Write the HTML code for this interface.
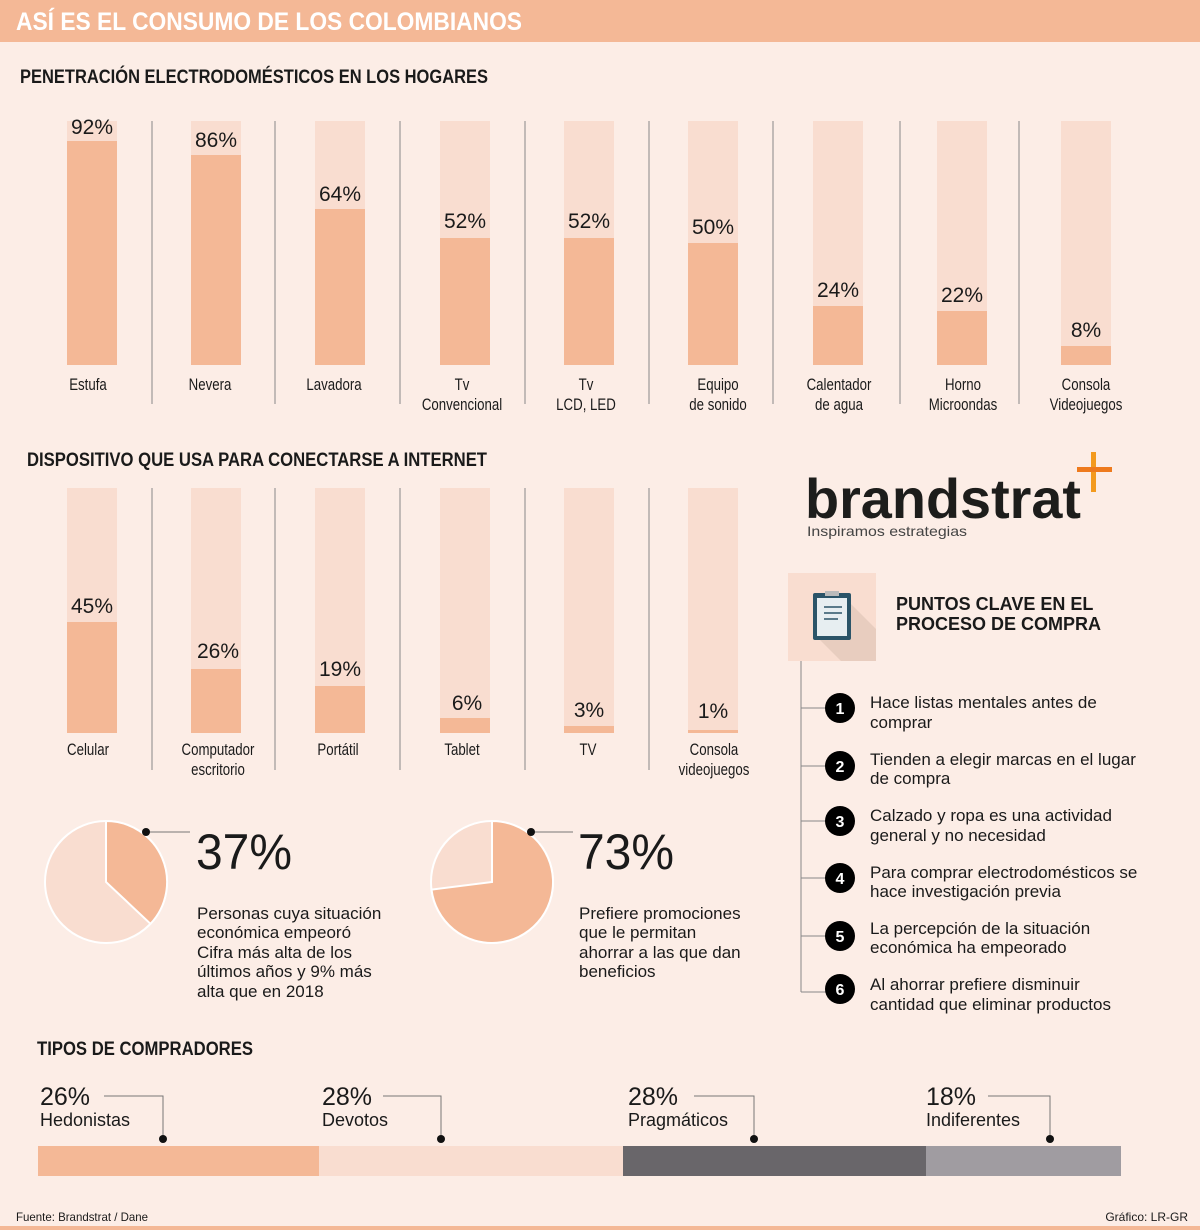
<!DOCTYPE html>
<html><head><meta charset="utf-8"><style>
body{margin:0;background:#fcede6}
svg{display:block}
text{font-family:"Liberation Sans",sans-serif;fill:#1a1a1a}
.c{font-size:17px;text-anchor:middle}
.v{font-size:21px;text-anchor:middle}
.h{font-size:19px;font-weight:bold}
.t{font-size:17px}
</style></head><body>
<svg width="1200" height="1230" viewBox="0 0 1200 1230">
<rect width="1200" height="1230" fill="#fcede6"/>
<rect width="1200" height="42" fill="#f4b896"/>
<text x="16" y="30" style="font-size:25px;font-weight:bold;fill:#fff" textLength="506" lengthAdjust="spacingAndGlyphs">ASÍ ES EL CONSUMO DE LOS COLOMBIANOS</text>
<text x="20" y="83" class="h" textLength="468" lengthAdjust="spacingAndGlyphs">PENETRACIÓN ELECTRODOMÉSTICOS EN LOS HOGARES</text>
<g stroke="#888" stroke-width="1">
<line x1="152" y1="121" x2="152" y2="404"/><line x1="275" y1="121" x2="275" y2="404"/><line x1="400" y1="121" x2="400" y2="404"/><line x1="525" y1="121" x2="525" y2="404"/><line x1="649" y1="121" x2="649" y2="404"/><line x1="773" y1="121" x2="773" y2="404"/><line x1="900" y1="121" x2="900" y2="404"/><line x1="1019" y1="121" x2="1019" y2="404"/>
<line x1="152" y1="488" x2="152" y2="770"/><line x1="275" y1="488" x2="275" y2="770"/><line x1="400" y1="488" x2="400" y2="770"/><line x1="525" y1="488" x2="525" y2="770"/><line x1="649" y1="488" x2="649" y2="770"/>
</g>
<g fill="#f9ddd0">
<rect x="67" y="121" width="50" height="244"/><rect x="191" y="121" width="50" height="244"/><rect x="315" y="121" width="50" height="244"/><rect x="440" y="121" width="50" height="244"/><rect x="564" y="121" width="50" height="244"/><rect x="688" y="121" width="50" height="244"/><rect x="813" y="121" width="50" height="244"/><rect x="937" y="121" width="50" height="244"/><rect x="1061" y="121" width="50" height="244"/>
<rect x="67" y="488" width="50" height="245"/><rect x="191" y="488" width="50" height="245"/><rect x="315" y="488" width="50" height="245"/><rect x="440" y="488" width="50" height="245"/><rect x="564" y="488" width="50" height="245"/><rect x="688" y="488" width="50" height="245"/>
</g>
<g fill="#f4b896">
<rect x="67" y="141" width="50" height="224"/><rect x="191" y="155" width="50" height="210"/><rect x="315" y="209" width="50" height="156"/><rect x="440" y="238" width="50" height="127"/><rect x="564" y="238" width="50" height="127"/><rect x="688" y="243" width="50" height="122"/><rect x="813" y="306" width="50" height="59"/><rect x="937" y="311" width="50" height="54"/><rect x="1061" y="346" width="50" height="19"/>
<rect x="67" y="622" width="50" height="111"/><rect x="191" y="669" width="50" height="64"/><rect x="315" y="686" width="50" height="47"/><rect x="440" y="718" width="50" height="15"/><rect x="564" y="726" width="50" height="7"/><rect x="688" y="730" width="50" height="3"/>
</g>
<g class="v">
<text x="92" y="134">92%</text><text x="216" y="147">86%</text><text x="340" y="201">64%</text><text x="465" y="228">52%</text><text x="589" y="228">52%</text><text x="713" y="234">50%</text><text x="838" y="297">24%</text><text x="962" y="302">22%</text><text x="1086" y="337">8%</text>
<text x="92" y="613">45%</text><text x="218" y="658">26%</text><text x="340" y="676">19%</text><text x="467" y="710">6%</text><text x="589" y="717">3%</text><text x="713" y="718">1%</text>
</g>
<g class="c">
<g transform="translate(88 0) scale(0.78 1)"><text x="0" y="390">Estufa</text></g>
<g transform="translate(210 0) scale(0.78 1)"><text x="0" y="390">Nevera</text></g>
<g transform="translate(334 0) scale(0.78 1)"><text x="0" y="390">Lavadora</text></g>
<g transform="translate(462 0) scale(0.78 1)"><text x="0" y="390">Tv</text><text x="0" y="410">Convencional</text></g>
<g transform="translate(586 0) scale(0.78 1)"><text x="0" y="390">Tv</text><text x="0" y="410">LCD, LED</text></g>
<g transform="translate(718 0) scale(0.78 1)"><text x="0" y="390">Equipo</text><text x="0" y="410">de sonido</text></g>
<g transform="translate(839 0) scale(0.78 1)"><text x="0" y="390">Calentador</text><text x="0" y="410">de agua</text></g>
<g transform="translate(963 0) scale(0.78 1)"><text x="0" y="390">Horno</text><text x="0" y="410">Microondas</text></g>
<g transform="translate(1086 0) scale(0.78 1)"><text x="0" y="390">Consola</text><text x="0" y="410">Videojuegos</text></g>
<g transform="translate(88 0) scale(0.78 1)"><text x="0" y="755">Celular</text></g>
<g transform="translate(218 0) scale(0.78 1)"><text x="0" y="755">Computador</text><text x="0" y="775">escritorio</text></g>
<g transform="translate(338 0) scale(0.78 1)"><text x="0" y="755">Portátil</text></g>
<g transform="translate(462 0) scale(0.78 1)"><text x="0" y="755">Tablet</text></g>
<g transform="translate(588 0) scale(0.78 1)"><text x="0" y="755">TV</text></g>
<g transform="translate(714 0) scale(0.78 1)"><text x="0" y="755">Consola</text><text x="0" y="775">videojuegos</text></g>
</g>
<text x="27" y="466" class="h" textLength="460" lengthAdjust="spacingAndGlyphs">DISPOSITIVO QUE USA PARA CONECTARSE A INTERNET</text>
<!-- logo -->
<text x="805" y="518" style="font-size:56px;font-weight:bold;fill:#1d1d1b" textLength="276" lengthAdjust="spacingAndGlyphs">brandstrat</text>
<text x="807" y="536" style="font-size:14px;fill:#444" textLength="160" lengthAdjust="spacingAndGlyphs">Inspiramos estrategias</text>
<rect x="1091" y="452" width="5" height="40" fill="#f39a1e"/><rect x="1077" y="467" width="35" height="5" fill="#ee7a1d"/>
<!-- pies -->
<circle cx="106" cy="882" r="61" fill="#f9ddd0" stroke="#fff" stroke-width="2"/>
<path d="M106 882 L106 821 A61 61 0 0 1 150.5 923.8 Z" fill="#f4b896" stroke="#fff" stroke-width="2"/>
<circle cx="492" cy="882" r="61" fill="#f9ddd0" stroke="#fff" stroke-width="2"/>
<path d="M492 882 L492 821 A61 61 0 1 1 431.5 889.6 Z" fill="#f4b896" stroke="#fff" stroke-width="2"/>
<line x1="146" y1="832" x2="190" y2="832" stroke="#777"/><circle cx="146" cy="832" r="4" fill="#111"/>
<line x1="531" y1="832" x2="573" y2="832" stroke="#777"/><circle cx="531" cy="832" r="4" fill="#111"/>
<text x="196" y="869" style="font-size:50px;font-weight:300" textLength="96" lengthAdjust="spacingAndGlyphs">37%</text>
<text x="578" y="869" style="font-size:50px" textLength="96" lengthAdjust="spacingAndGlyphs">73%</text>
<g class="t">
<text x="197" y="919">Personas cuya situación</text><text x="197" y="938">económica empeoró</text><text x="197" y="958">Cifra más alta de los</text><text x="197" y="977">últimos años y 9% más</text><text x="197" y="997">alta que en 2018</text>
<text x="579" y="919">Prefiere promociones</text><text x="579" y="938">que le permitan</text><text x="579" y="958">ahorrar a las que dan</text><text x="579" y="977">beneficios</text>
</g>
<!-- key points -->
<rect x="788" y="573" width="88" height="88" fill="#f9ddd0"/>
<path d="M820 640 L851 604 L876 629 L876 661 L841 661 Z" fill="#e8cdbf"/>
<rect x="813" y="593" width="38" height="47" rx="2" fill="#2b5468"/>
<rect x="817" y="598" width="30" height="38" fill="#e7eef1"/>
<rect x="825" y="591" width="14" height="5" fill="#bbb"/>
<g stroke="#2b5468" stroke-width="1.5"><line x1="824" y1="607" x2="842" y2="607"/><line x1="824" y1="613" x2="842" y2="613"/><line x1="824" y1="619" x2="838" y2="619"/></g>
<text x="896" y="610" class="h" style="font-size:18px">PUNTOS CLAVE EN EL</text>
<text x="896" y="630" class="h" style="font-size:18px">PROCESO DE COMPRA</text>
<line x1="801" y1="661" x2="801" y2="992" stroke="#888"/>
<g stroke="#888"><line x1="801" y1="708" x2="826" y2="708"/><line x1="801" y1="766" x2="826" y2="766"/><line x1="801" y1="821" x2="826" y2="821"/><line x1="801" y1="878" x2="826" y2="878"/><line x1="801" y1="936" x2="826" y2="936"/><line x1="801" y1="992" x2="826" y2="992"/></g>
<g fill="#000"><circle cx="840" cy="708" r="15"/><circle cx="840" cy="766" r="15"/><circle cx="840" cy="821" r="15"/><circle cx="840" cy="878" r="15"/><circle cx="840" cy="936" r="15"/><circle cx="840" cy="989" r="15"/></g>
<g style="font-size:16px;font-weight:bold;text-anchor:middle"><text x="840" y="714" style="fill:#fff">1</text><text x="840" y="772" style="fill:#fff">2</text><text x="840" y="827" style="fill:#fff">3</text><text x="840" y="884" style="fill:#fff">4</text><text x="840" y="942" style="fill:#fff">5</text><text x="840" y="995" style="fill:#fff">6</text></g>
<g class="t">
<text x="870" y="708">Hace listas mentales antes de</text><text x="870" y="728">comprar</text>
<text x="870" y="765">Tienden a elegir marcas en el lugar</text><text x="870" y="784">de compra</text>
<text x="870" y="821">Calzado y ropa es una actividad</text><text x="870" y="841">general y no necesidad</text>
<text x="870" y="878">Para comprar electrodomésticos se</text><text x="870" y="897">hace investigación previa</text>
<text x="870" y="934">La percepción de la situación</text><text x="870" y="953">económica ha empeorado</text>
<text x="870" y="990">Al ahorrar prefiere disminuir</text><text x="870" y="1010">cantidad que eliminar productos</text>
</g>
<!-- tipos -->
<text x="37" y="1055" class="h" textLength="216" lengthAdjust="spacingAndGlyphs">TIPOS DE COMPRADORES</text>
<rect x="38" y="1146" width="281" height="30" fill="#f4b896"/>
<rect x="319" y="1146" width="304" height="30" fill="#f9ddd0"/>
<rect x="623" y="1146" width="303" height="30" fill="#69666a"/>
<rect x="926" y="1146" width="195" height="30" fill="#a09ca1"/>
<g stroke="#777" fill="none">
<polyline points="104,1096 163,1096 163,1139"/><polyline points="383,1096 441,1096 441,1139"/><polyline points="694,1096 754,1096 754,1139"/><polyline points="988,1096 1050,1096 1050,1139"/>
</g>
<g fill="#111"><circle cx="163" cy="1139" r="4"/><circle cx="441" cy="1139" r="4"/><circle cx="754" cy="1139" r="4"/><circle cx="1050" cy="1139" r="4"/></g>
<g style="font-size:25px">
<text x="40" y="1105">26%</text><text x="322" y="1105">28%</text><text x="628" y="1105">28%</text><text x="926" y="1105">18%</text>
</g>
<g style="font-size:18px">
<text x="40" y="1126">Hedonistas</text><text x="322" y="1126">Devotos</text><text x="628" y="1126">Pragmáticos</text><text x="926" y="1126">Indiferentes</text>
</g>
<text x="16" y="1221" style="font-size:12px" textLength="132" lengthAdjust="spacingAndGlyphs">Fuente: Brandstrat / Dane</text>
<text x="1188" y="1221" style="font-size:12px;text-anchor:end">Gráfico: LR-GR</text>
<rect x="0" y="1226" width="1200" height="4" fill="#f4b896"/>
</svg>
</body></html>
